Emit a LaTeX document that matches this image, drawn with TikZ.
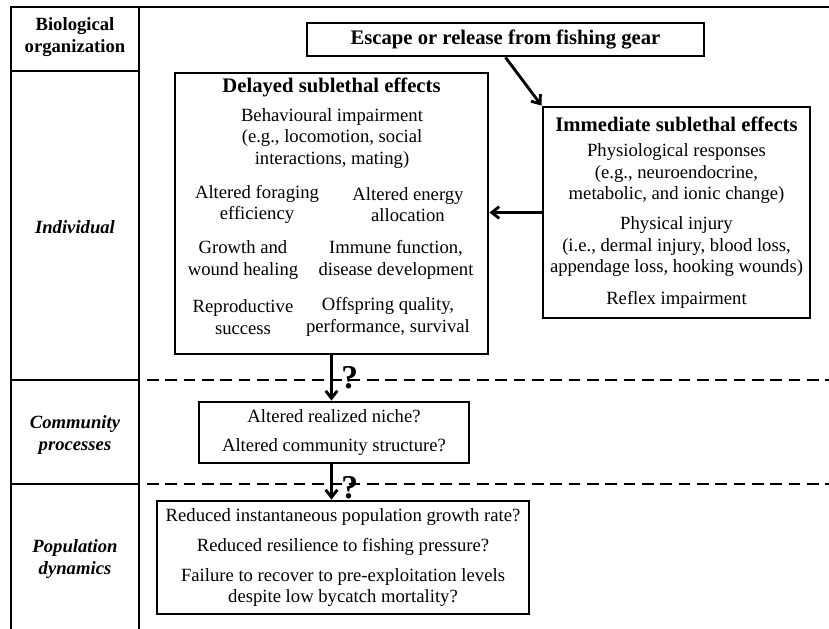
\documentclass[tikz,border=0pt]{standalone}
\usepackage{fontspec}
\setmainfont{Liberation Serif}
\usetikzlibrary{positioning,arrows.meta}

\tikzset{
	box/.style={draw, line width=1.7pt, inner sep=0pt, align=center, font=\fontsize{11.2}{12.9}\selectfont},
	txt/.style={align=center, inner sep=0pt, font=\fontsize{11.2}{12.9}\selectfont},
	hd/.style={align=center, inner sep=0pt, font=\fontsize{12.4}{14}\selectfont\bfseries},
	lbl/.style={align=center, inner sep=0pt, font=\fontsize{11.2}{12.9}\selectfont\bfseries},
	qm/.style={inner sep=0pt, font=\fontsize{20}{22}\selectfont\bfseries},
	arr/.style={-{Straight Barb[length=4.5pt,width=7pt]}, line width=1.7pt},
	rule/.style={line width=1.7pt},
}

\begin{document}
\begin{tikzpicture}[x=0.6pt,y=-0.6pt]
	\useasboundingbox (0,0) rectangle (829,629);

	% table
	\draw[rule] (829,7) -- (11,7) -- (11,629);
	\draw[rule] (139,7) -- (139,629);
	\draw[rule] (11,71) -- (139,71) (11,380) -- (139,380) (11,484) -- (139,484);
	\draw[rule, dash pattern=on 7pt off 4pt] (147,380) -- (829,380) (147,484) -- (829,484);

	\draw
	node[lbl] (bio) at (75,37) {Biological\\organization}
	node[lbl] (indiv) at (75,227) {\itshape Individual}
	node[lbl] (commlbl) at (75,435) {\itshape Community\\\itshape processes}
	node[lbl] (poplbl) at (75,559) {\itshape Population\\\itshape dynamics};

	\draw node[box, minimum width=238.2pt, minimum height=19.8pt, font=\fontsize{12.4}{14}\selectfont\bfseries] (escape) at (505.5,39.5) {Escape or release from fishing gear};

	% delayed effects
	\draw node[box, minimum width=187.8pt, minimum height=168.6pt] (delayed) at (331.5,213.5) {};
	\draw
	node[hd] (dtitle) at (331.5,87) {Delayed sublethal effects}
	node[txt] (behav) at (332,138.5) {Behavioural impairment\\(e.g., locomotion, social\\interactions, mating)}
	node[txt] (forag) at (257,204.5) {Altered foraging\\efficiency}
	node[txt] (energy) at (408,204.5) {Altered energy\\allocation}
	node[txt] (growth) at (243,260) {Growth and\\wound healing}
	node[txt] (immune) at (396,260) {Immune function,\\disease development}
	node[txt] (repro) at (243,317) {Reproductive\\success}
	node[txt] (offspr) at (388,317) {Offspring quality,\\performance, survival};

	% immediate effects
	\draw node[box, minimum width=160.2pt, minimum height=126.6pt] (immed) at (676.5,212.5)
	{{\fontsize{12.4}{14}\selectfont\bfseries Immediate sublethal effects}\\[2.5pt]
	Physiological responses\\(e.g., neuroendocrine,\\metabolic, and ionic change)\\[5pt]
	Physical injury\\(i.e., dermal injury, blood loss,\\appendage loss, hooking wounds)\\[6pt]
	Reflex impairment};

	\draw node[box, minimum width=162pt, minimum height=36.6pt] (comm) at (334,432.5)
	{Altered realized niche?\\[5pt]Altered community structure?};

	\draw node[box, minimum width=223.2pt, minimum height=67.8pt] (pop) at (343,557.5)
	{Reduced instantaneous population growth rate?\\[5pt]
	Reduced resilience to fishing pressure?\\[5pt]
	Failure to recover to pre-exploitation levels\\despite low bycatch mortality?};

	\draw[arr] (escape.south) -- (immed.north west);
	\draw[arr] (immed.west) -- (delayed.east |- immed.west);
	\draw[arr] (delayed.south) -- (delayed.south |- comm.north) node[qm, midway, right=5pt] (qone) {?};
	\draw[arr] (delayed.south |- comm.south) -- (delayed.south |- pop.north) node[qm, pos=0.65, right=5pt] (qtwo) {?};
\end{tikzpicture}
\end{document}
